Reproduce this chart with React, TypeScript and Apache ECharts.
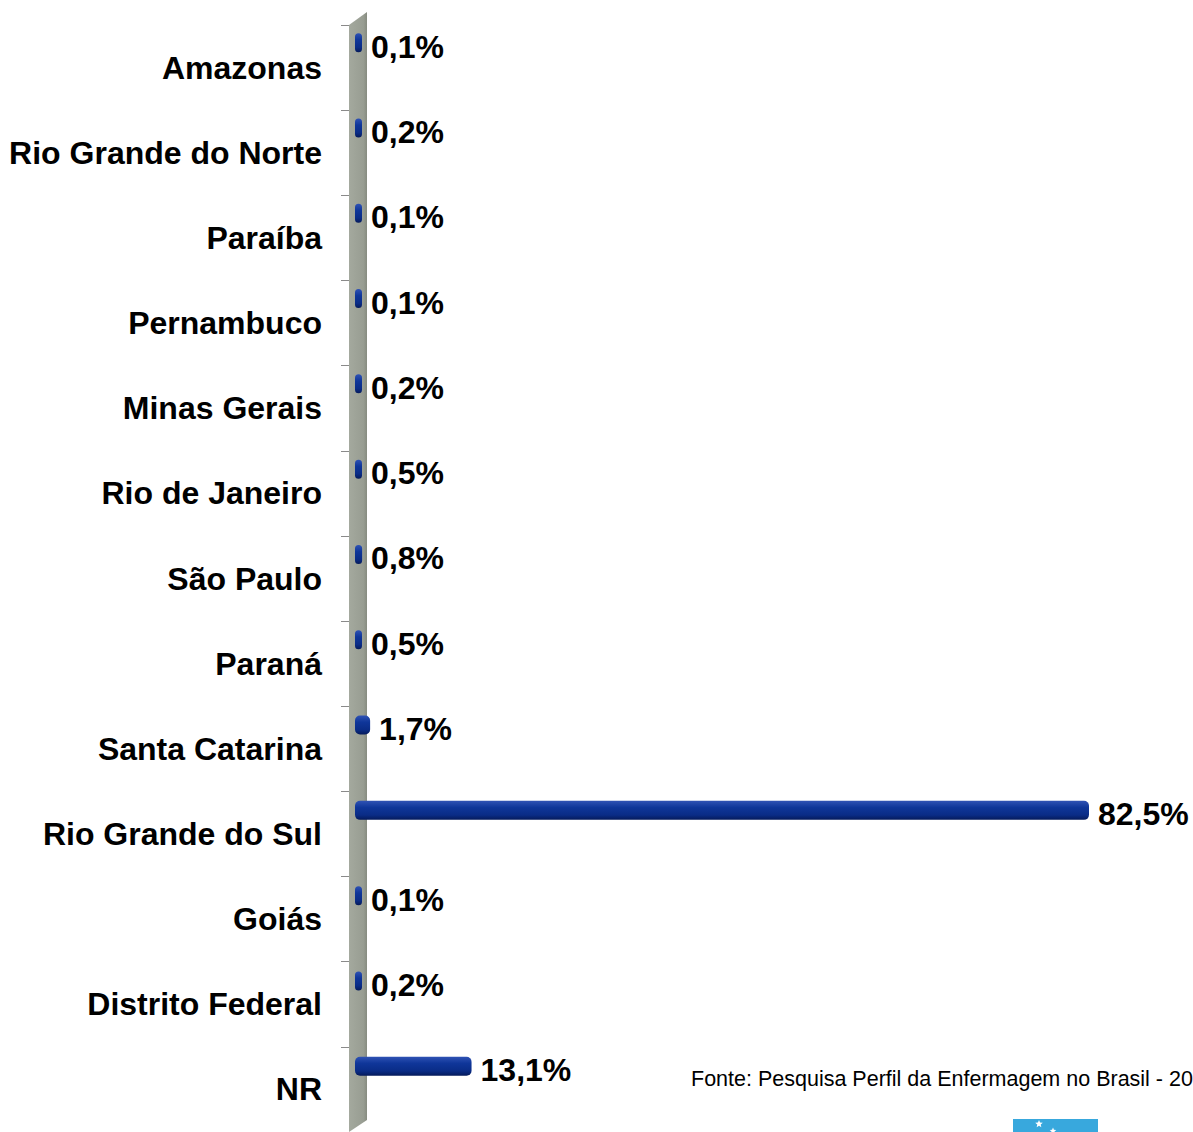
import React, { useEffect, useRef } from "react";
import * as echarts from "echarts";

const categories = [
  "Amazonas",
  "Rio Grande do Norte",
  "Paraíba",
  "Pernambuco",
  "Minas Gerais",
  "Rio de Janeiro",
  "São Paulo",
  "Paraná",
  "Santa Catarina",
  "Rio Grande do Sul",
  "Goiás",
  "Distrito Federal",
  "NR",
];
const values = [0.1, 0.2, 0.1, 0.1, 0.2, 0.5, 0.8, 0.5, 1.7, 82.5, 0.1, 0.2, 13.1];
const sourceText = "Fonte: Pesquisa Perfil da Enfermagem no Brasil - 20";

function star(cx: number, cy: number, r: number) {
  const pts: number[][] = [];
  for (let i = 0; i < 10; i++) {
    const a = -Math.PI / 2 + (i * Math.PI) / 5;
    const rr = i % 2 === 0 ? r : r * 0.45;
    pts.push([cx + rr * Math.cos(a), cy + rr * Math.sin(a)]);
  }
  return pts;
}

export default function App() {
  const ref = useRef<HTMLDivElement>(null);
  useEffect(() => {
    if (!ref.current) return;
    const chart = echarts.init(ref.current, null, { renderer: "svg" });
    const font = "Arial";
    const bandH = 85.3;
    const gridH = bandH * categories.length;
    chart.setOption({
      animation: false,
      backgroundColor: "#ffffff",
      grid: [
        { left: 349, top: 25, width: 18, height: gridH },
        { left: 355, top: 0, width: 734, height: gridH },
      ],
      xAxis: [
        { type: "value", gridIndex: 0, min: 0, max: 1, show: false },
        { type: "value", gridIndex: 1, min: 0, max: 82.5, show: false },
      ],
      yAxis: [
        {
          type: "category",
          gridIndex: 0,
          data: categories,
          inverse: true,
          axisLine: { show: false },
          axisTick: { show: true, length: 8, lineStyle: { color: "#8a8a8a", width: 1 } },
          axisLabel: {
            margin: 27,
            fontFamily: font,
            fontWeight: "bold",
            fontSize: 32,
            color: "#000000",
          },
          splitLine: { show: false },
        },
        {
          type: "category",
          gridIndex: 1,
          data: categories,
          inverse: true,
          show: false,
        },
      ],
      graphic: [
        {
          type: "polygon",
          z: 0,
          shape: { points: [[349, 25], [367, 12], [367, 1120], [349, 1132]] },
          style: {
            fill: new echarts.graphic.LinearGradient(0, 0, 1, 0, [
              { offset: 0, color: "#a4a99e" },
              { offset: 0.8, color: "#989d92" },
              { offset: 1, color: "#868b80" },
            ]),
          },
        },
        {
          type: "text",
          left: 691,
          top: 1068,
          style: {
            text: sourceText,
            font: `21.5px ${font}`,
            fill: "#000000",
          },
        },
        {
          type: "rect",
          shape: { x: 1013, y: 1119, width: 85, height: 20 },
          style: { fill: "#38a8dd" },
        },
        {
          type: "polygon",
          shape: { points: star(1039, 1124, 4) },
          style: { fill: "#ffffff" },
        },
        {
          type: "polygon",
          shape: { points: star(1053, 1131, 3.5) },
          style: { fill: "#ffffff" },
        },
      ],
      series: [
        {
          type: "bar",
          xAxisIndex: 1,
          yAxisIndex: 1,
          data: values,
          barWidth: 19,
          barMinHeight: 7,
          z: 3,
          itemStyle: {
            borderRadius: 5,
            color: new echarts.graphic.LinearGradient(0, 0, 0, 1, [
              { offset: 0, color: "#2f52b4" },
              { offset: 0.35, color: "#0f3699" },
              { offset: 0.75, color: "#0a2c86" },
              { offset: 1, color: "#051a5a" },
            ]),
          },
          label: {
            show: true,
            position: "right",
            distance: 9,
            offset: [0, 4],
            fontFamily: font,
            fontWeight: "bold",
            fontSize: 32,
            color: "#000000",
            formatter: (p: any) => String(p.value).replace(".", ",") + "%",
          },
        },
      ],
    });
    return () => chart.dispose();
  }, []);
  return <div ref={ref} style={{ width: 1193, height: 1132, position: "absolute", left: 0, top: 0 }} />;
}
